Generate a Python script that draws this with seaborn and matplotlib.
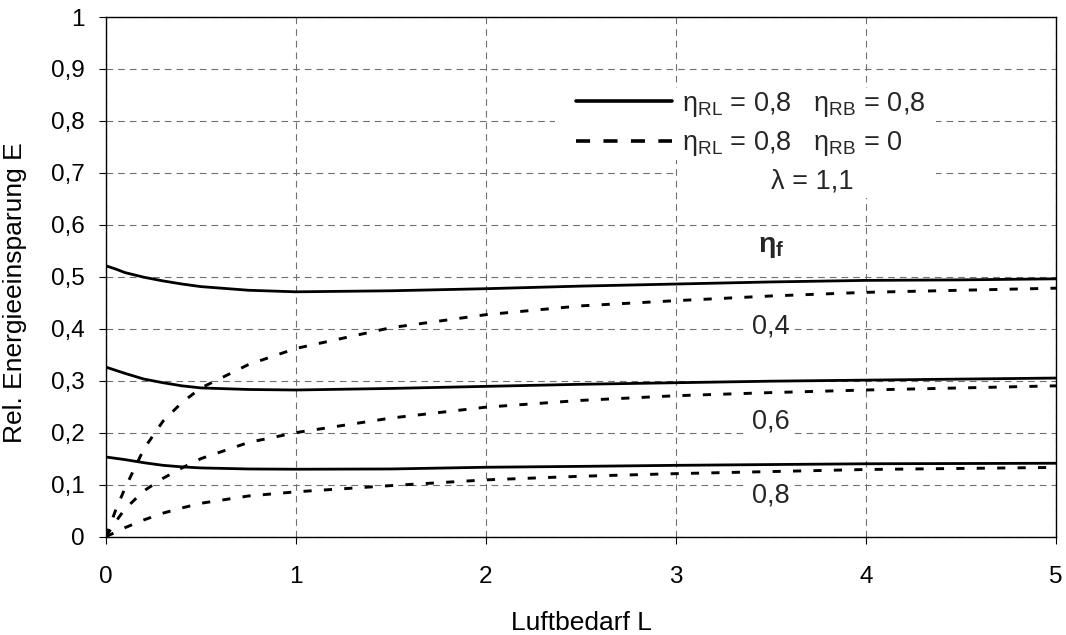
import numpy as np
import pandas as pd
import matplotlib
matplotlib.use("Agg")
import matplotlib.pyplot as plt
from matplotlib.lines import Line2D
from matplotlib.patches import Rectangle
import seaborn as sns

# ---- data ----
L = [0, 0.05, 0.1, 0.2, 0.3, 0.4, 0.5, 0.75, 1, 1.5, 2, 2.5, 3, 3.5, 4, 4.5, 5]
solid_04 = [0.521, 0.515, 0.508, 0.499, 0.492, 0.486, 0.481, 0.474, 0.471, 0.473, 0.477, 0.482, 0.486, 0.490, 0.493, 0.494, 0.496]
solid_06 = [0.326, 0.320, 0.314, 0.303, 0.296, 0.290, 0.286, 0.283, 0.282, 0.285, 0.289, 0.293, 0.296, 0.299, 0.301, 0.303, 0.305]
solid_08 = [0.153, 0.1505, 0.148, 0.142, 0.137, 0.134, 0.132, 0.130, 0.1295, 0.130, 0.1333, 0.135, 0.137, 0.1385, 0.140, 0.1405, 0.141]
dash_04 = [0.0, 0.050, 0.093, 0.169, 0.222, 0.258, 0.286, 0.331, 0.362, 0.402, 0.427, 0.444, 0.454, 0.463, 0.470, 0.474, 0.478]
dash_06 = [0.0, 0.028, 0.053, 0.088, 0.112, 0.132, 0.150, 0.181, 0.200, 0.228, 0.249, 0.262, 0.271, 0.277, 0.282, 0.286, 0.290]
dash_08 = [0.0, 0.008, 0.017, 0.032, 0.045, 0.055, 0.064, 0.078, 0.086, 0.098, 0.109, 0.116, 0.121, 0.125, 0.129, 0.131, 0.133]

x_ticks = [0, 1, 2, 3, 4, 5]
y_ticks = [0, 0.1, 0.2, 0.3, 0.4, 0.5, 0.6, 0.7, 0.8, 0.9, 1]
y_tick_labels = ["0", "0,1", "0,2", "0,3", "0,4", "0,5", "0,6", "0,7", "0,8", "0,9", "1"]
eta_f_labels = ["0,4", "0,6", "0,8"]
eta_f_label_y = [0.405, 0.222, 0.078]

legend_labels = [r"η$_{\mathrm{RL}}$ = 0,8   η$_{\mathrm{RB}}$ = 0,8",
                 r"η$_{\mathrm{RL}}$ = 0,8   η$_{\mathrm{RB}}$ = 0"]

# ---- style ----
sns.set_theme(style="white")
plt.rcParams["font.family"] = ["Liberation Sans", "DejaVu Sans"]
plt.rcParams["mathtext.fontset"] = "custom"
plt.rcParams["mathtext.rm"] = "Liberation Sans"
plt.rcParams["mathtext.it"] = "Liberation Sans:italic"
plt.rcParams["mathtext.bf"] = "Liberation Sans:bold"

FS_TICK = 17.5
FS_TXT = 19.5
FS_LAB = 19.0

fig = plt.figure(figsize=(10.66, 6.35), dpi=100)
ax = fig.add_axes([106 / 1066, (635 - 536.5) / 635, 950 / 1066, 519.5 / 635])

rows = []
for name, vals in [("s04", solid_04), ("s06", solid_06), ("s08", solid_08),
                   ("d04", dash_04), ("d06", dash_06), ("d08", dash_08)]:
    for xv, yv in zip(L, vals):
        rows.append({"L": xv, "E": yv, "curve": name})
df = pd.DataFrame(rows)

for name in ["s04", "s06", "s08"]:
    sns.lineplot(data=df[df.curve == name], x="L", y="E", ax=ax, color="black",
                 lw=2.0, solid_capstyle="butt", zorder=4)
for name in ["d04", "d06", "d08"]:
    sns.lineplot(data=df[df.curve == name], x="L", y="E", ax=ax, color="black",
                 lw=2.1, linestyle=(0, (2.8, 4.2)), zorder=4)

ax.set_xlim(0, 5)
ax.set_ylim(0, 1)
ax.set_xticks(x_ticks)
ax.set_xticklabels([str(v) for v in x_ticks])
ax.set_yticks(y_ticks)
ax.set_yticklabels(y_tick_labels)

ax.grid(True, color="#707070", linestyle=(0, (6, 4.5)), lw=0.8, zorder=0)
ax.set_axisbelow(True)
for s in ax.spines.values():
    s.set_color("black")
    s.set_linewidth(1.0)
ax.tick_params(axis="both", which="major", direction="out", length=5, width=0.8,
               color="black", labelsize=FS_TICK, labelcolor="black",
               bottom=True, left=True, top=False, right=False)
ax.tick_params(axis="x", pad=16)
ax.tick_params(axis="y", pad=10.5)

ax.set_xlabel("Luftbedarf L", fontsize=FS_LAB, color="black", labelpad=17)
ax.set_ylabel("Rel. Energieeinsparung E", fontsize=FS_LAB, color="black", labelpad=11)
ax.yaxis.set_label_coords(-0.083, 0.47)

# white masks behind legend area and λ label
ax.add_patch(Rectangle(((555 - 106) / 950, (536.5 - 160) / 519.5),
                       (936 - 555) / 950, (160 - 88) / 519.5,
                       transform=ax.transAxes, facecolor="white", edgecolor="none", zorder=2))
ax.add_patch(Rectangle(((678 - 106) / 950, (536.5 - 198) / 519.5),
                       (936 - 678) / 950, (198 - 158) / 519.5,
                       transform=ax.transAxes, facecolor="white", edgecolor="none", zorder=2))

handles = [Line2D([], [], color="black", lw=2.6),
           Line2D([], [], color="black", lw=2.6, linestyle=(0, (3.9, 3.7)))]
leg = ax.legend(handles, legend_labels, loc="center left",
                bbox_to_anchor=((576 - 106) / 950, (536.5 - 124) / 519.5),
                frameon=False, fontsize=FS_TXT, handlelength=3.55, handletextpad=0.37,
                labelspacing=0.4, borderpad=0, borderaxespad=0)
leg.set_zorder(5)

ax.text(3.72, 0.683, "λ = 1,1", fontsize=FS_TXT, ha="center", va="center", zorder=5)
ax.text(3.5, 0.557, r"$\mathbf{η_{f}}$", fontsize=FS_TXT + 1, ha="center", va="center", zorder=5,
        bbox=dict(facecolor="white", edgecolor="none", pad=3))
for lab, yv in zip(eta_f_labels, eta_f_label_y):
    ax.text(3.5, yv, lab, fontsize=FS_TXT, ha="center", va="center", zorder=5,
            bbox=dict(facecolor="white", edgecolor="none", pad=3))

fig.savefig("out.png", dpi=100)
